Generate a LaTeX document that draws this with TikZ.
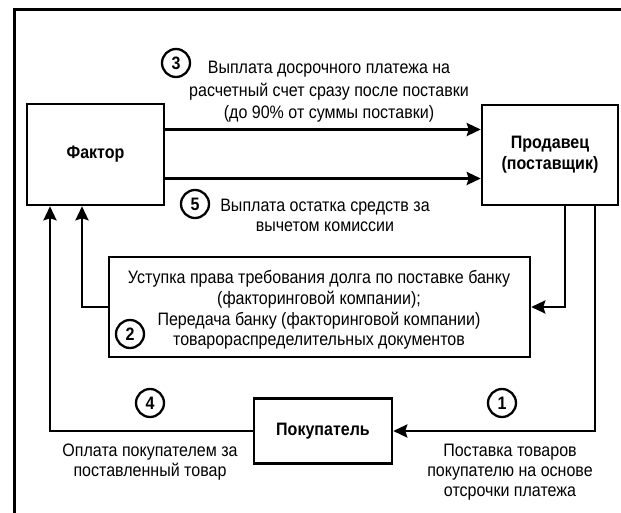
\documentclass[tikz,border=0pt]{standalone}
\usepackage{fontspec}
\setmainfont[FakeStretch=0.89]{Liberation Sans}
\usetikzlibrary{arrows.meta}
\begin{document}
\begin{tikzpicture}[x=1pt,y=-1pt,
  box/.style={draw,line width=2.5pt,inner sep=0pt,align=center},
  lbl/.style={font=\bfseries\fontsize{18}{21}\selectfont},
  txt/.style={align=center,inner sep=0pt,font=\fontsize{18}{21}\selectfont},
  numc/.style={draw,circle,line width=2.3pt,minimum size=28pt,inner sep=0pt,font=\bfseries\fontsize{18}{18}\selectfont},
  arr/.style={line width=2.5pt,-{Stealth[length=14pt,width=13pt,inset=2pt]}}]
\useasboundingbox (0,0) rectangle (621,513);
\fill[white] (0,0) rectangle (621,513);
\clip (0,0) rectangle (621,513);
% frame
\draw[line width=3pt] (14,520) -- (14,10) -- (630,10);
% boxes
\node[box,lbl,minimum width=137pt,minimum height=101pt] (factor) at (95.5,154.5) {Фактор};
\node[box,lbl,minimum width=136pt,minimum height=100pt] (seller) at (550,155) {Продавец\\(поставщик)};
\node[box,minimum width=421pt,minimum height=100pt] (middle) at (319.5,307) {};
\node[txt,font=\fontsize{18}{20.7}\selectfont] (mt) at (319,310) {Уступка права требования долга по поставке банку\\(факторинговой компании);\\Передача банку (факторинговой компании)\\товарораспределительных документов};
\node[box,lbl,minimum width=138pt,minimum height=65pt] (buyer) at (323,431) {Покупатель};
% circles
\node[numc] (n3) at (176,63) {3};
\node[numc] (n5) at (195,204) {5};
\node[numc] (n2) at (130,334) {2};
\node[numc] (n4) at (150,403) {4};
\node[numc] (n1) at (502,403) {1};
% texts
\node[txt,font=\fontsize{18}{22.5}\selectfont] (t3) at (329,92) {Выплата досрочного платежа на\\расчетный счет сразу после поставки\\(до 90\% от суммы поставки)};
\node[txt,font=\fontsize{18}{20}\selectfont] (t5) at (325,215) {Выплата остатка средств за\\вычетом комиссии};
\node[txt,font=\fontsize{18}{20}\selectfont] (t4) at (150,462) {Оплата покупателем за\\поставленный товар};
\node[txt,font=\fontsize{18}{20}\selectfont] (t1) at (510,472) {Поставка товаров\\покупателю на основе\\отсрочки платежа};
% connectors
\draw[arr] ([yshift=25pt]factor.east) -- ([yshift=25pt]factor.east -| seller.west);
\draw[arr] ([yshift=-24pt]factor.east) -- ([yshift=-24pt]factor.east -| seller.west);
\draw[arr] ([xshift=15pt]seller.south) |- (middle.east);
\draw[arr] ([xshift=45pt]seller.south) |- (buyer.east);
\draw[arr] (middle.west) -| ([xshift=-13.5pt]factor.south);
\draw[arr] (buyer.west) -| ([xshift=-45.5pt]factor.south);
\end{tikzpicture}
\end{document}
